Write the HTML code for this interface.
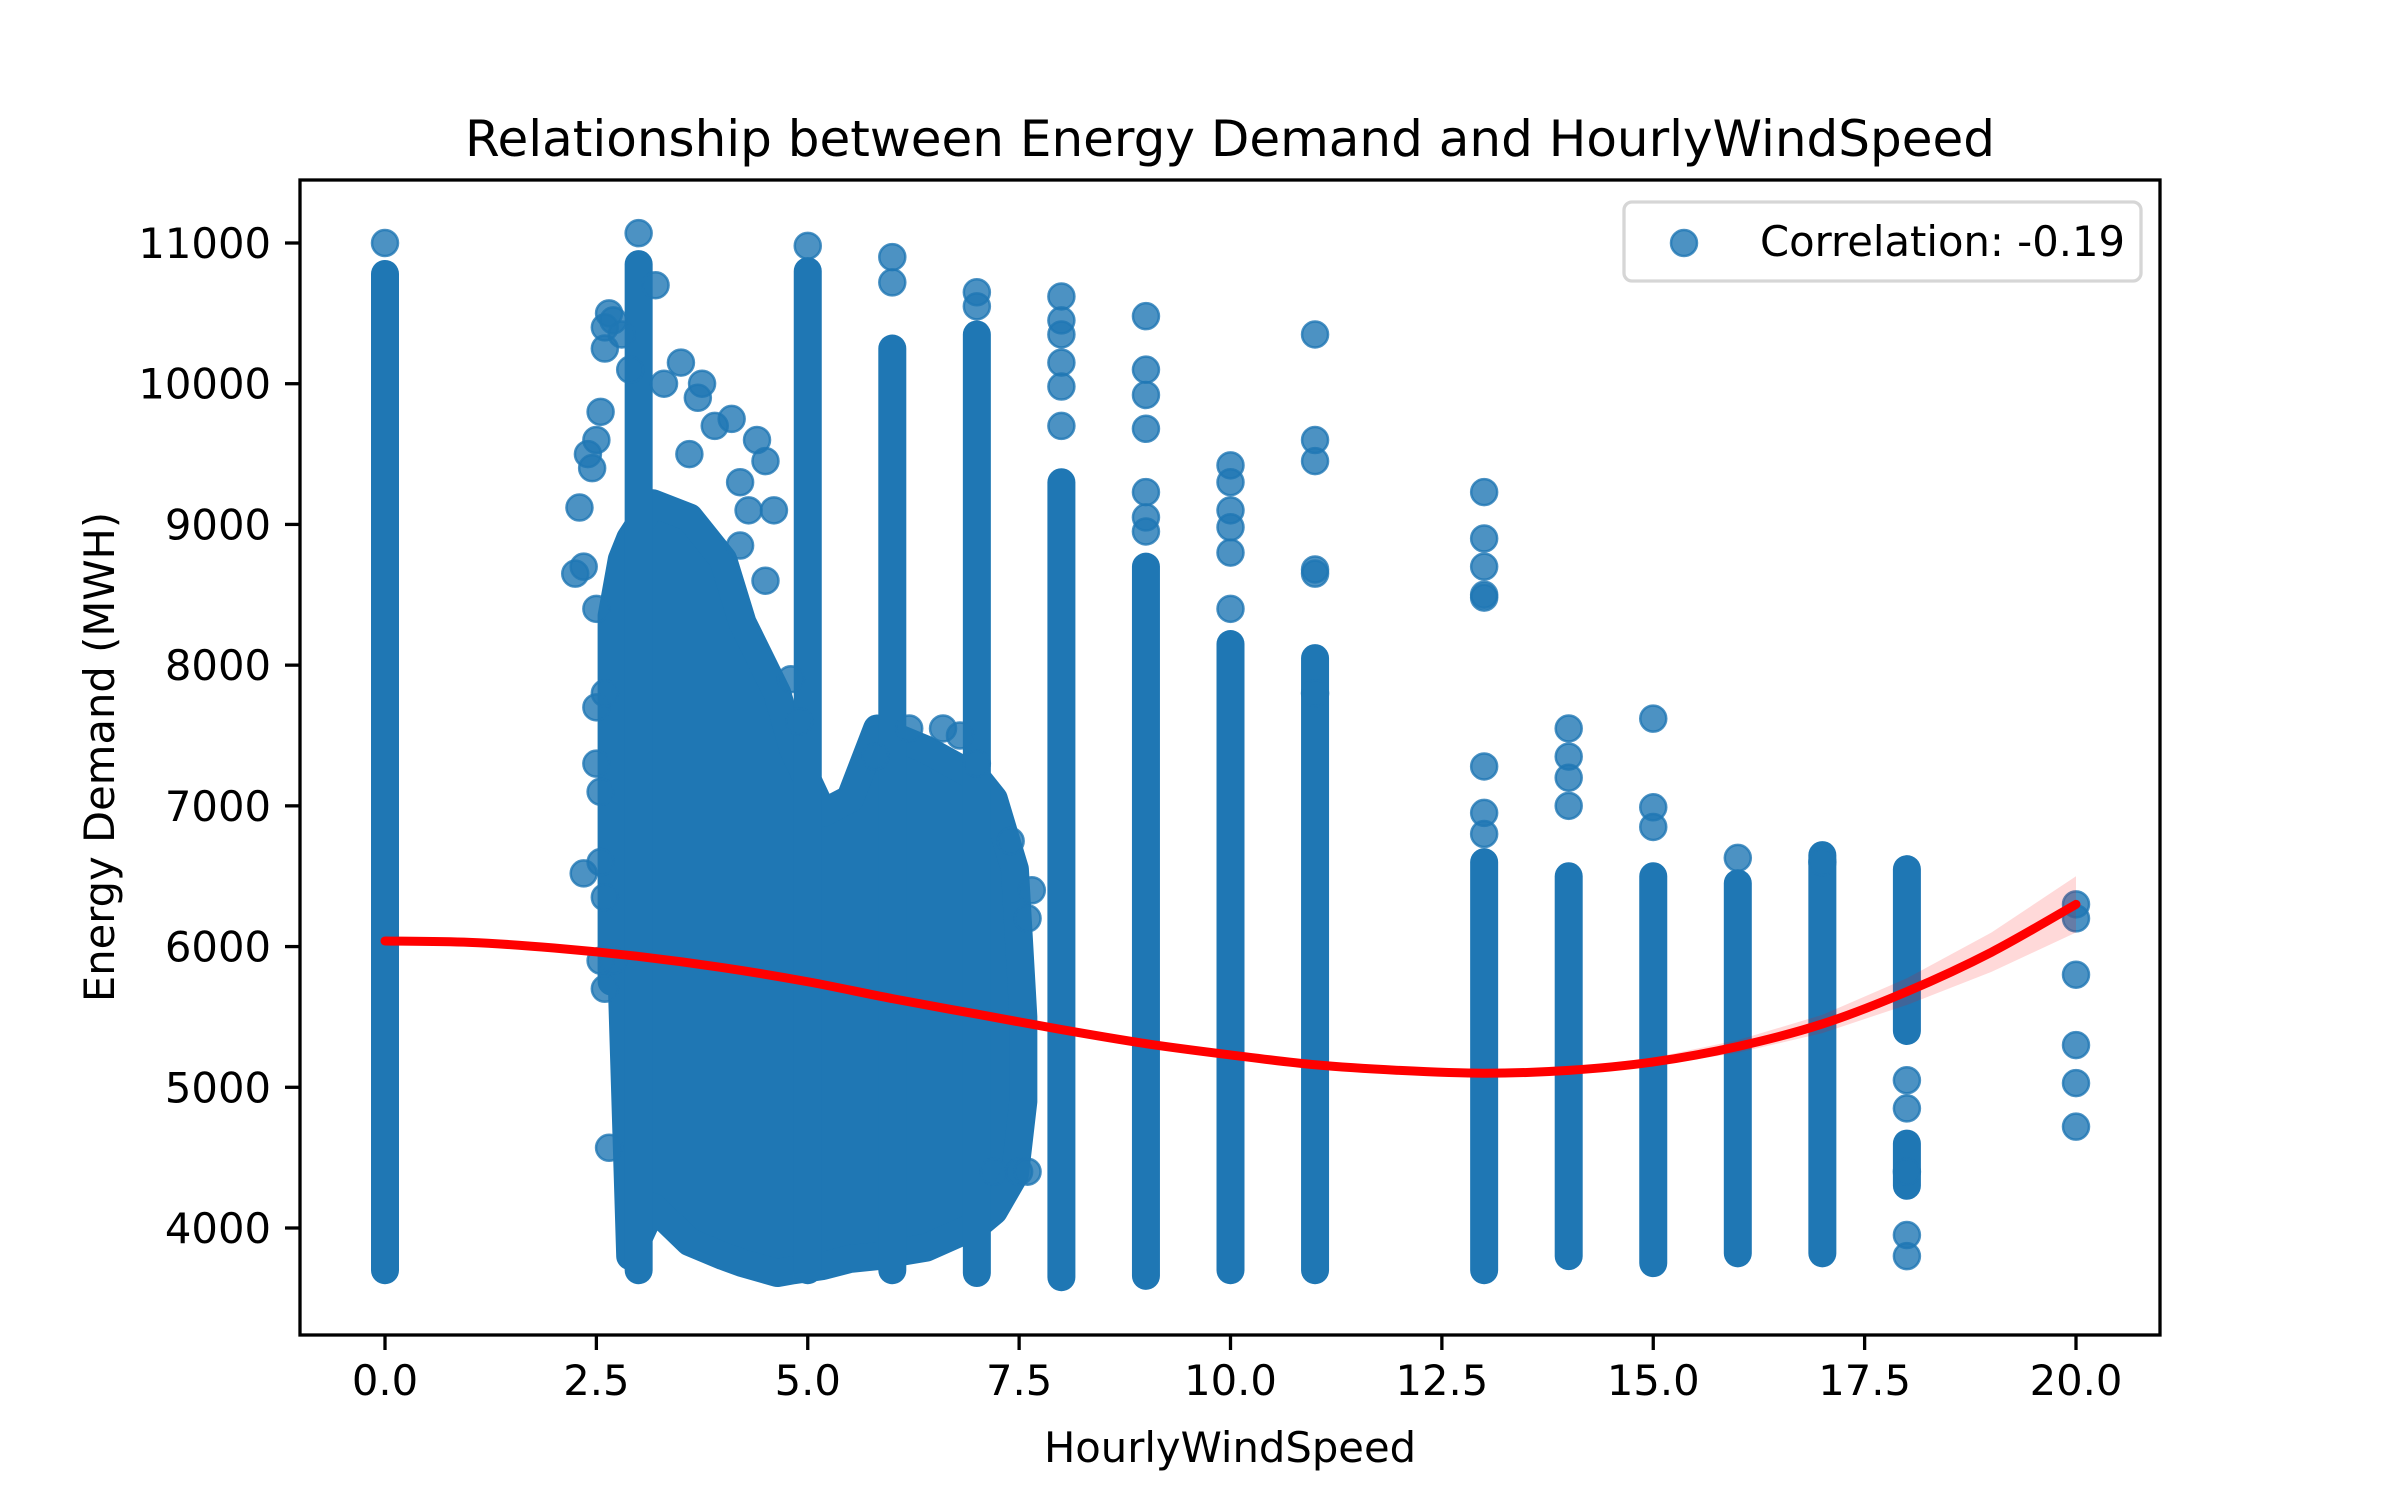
<!DOCTYPE html>
<html><head><meta charset="utf-8"><style>
html,body{margin:0;padding:0;background:#fff}
svg{display:block}
text{font-family:"DejaVu Sans","Liberation Sans",sans-serif;fill:#000}
</style></head><body>
<svg id="chart" width="2400" height="1500" viewBox="0 0 2400 1500" xmlns="http://www.w3.org/2000/svg">
<rect width="2400" height="1500" fill="#fff"/>
<defs><clipPath id="clip"><rect x="300" y="180" width="1860" height="1155"/></clipPath></defs>
<g id="plot" clip-path="url(#clip)"></g>
<g id="axes"></g>
<text x="1230" y="156" font-size="50" text-anchor="middle">Relationship between Energy Demand and HourlyWindSpeed</text>
<text x="1230" y="1462" font-size="41.7" text-anchor="middle">HourlyWindSpeed</text>
<text x="0" y="0" font-size="41.7" text-anchor="middle" transform="translate(114,757) rotate(-90)">Energy Demand (MWH)</text>
<g>
<rect x="1624" y="202" width="517" height="79" rx="8" fill="#fff" fill-opacity="0.8" stroke="#d6d6d6" stroke-width="3.3"/>
<circle cx="1684" cy="243" r="13" fill="#1f77b4" fill-opacity="0.8" stroke="#1f77b4" stroke-opacity="0.8" stroke-width="2.5"/>
<text x="1760" y="256" font-size="41.7">Correlation: -0.19</text>
</g>
</svg>
<script>
const xTicks=[0,2.5,5,7.5,10,12.5,15,17.5,20];
const xTickLabels=["0.0","2.5","5.0","7.5","10.0","12.5","15.0","17.5","20.0"];
const yTicks=[4000,5000,6000,7000,8000,9000,10000,11000];
const yTickLabels=["4000","5000","6000","7000","8000","9000","10000","11000"];
// dense column bands: x, low, high
const bandX=[0,3,5,6,7,8,9,10,11,13,14,15,16,17,18,18];
const bandLow=[3700,3700,3700,3700,3680,3650,3660,3700,3700,3700,3800,3750,3820,3820,5400,4300];
const bandHigh=[10780,10850,10800,10250,10350,9300,8700,8150,8050,6600,6500,6500,6450,6650,6550,4600];
// dense cloud envelope
const cloudX=[2.68,2.8,2.9,3.17,3.6,4.0,4.23,4.64,4.83,5.18,5.5,5.82,6.0,6.4,7.0,7.2,7.45,7.55];
const cloudHigh=[8350,8750,8900,9150,9050,8750,8300,7800,7400,6950,7050,7550,7500,7400,7200,7050,6550,5500];
const cloudLow=[5750,5750,3800,4150,3900,3800,3750,3680,3700,3730,3780,3800,3820,3860,4020,4120,4380,4900];
// isolated points
const ptX=[0,3,5,6,6,7,7,8,8,8,8,8,8,9,9,9,9,9,9,9,10,10,10,10,10,10,11,11,11,11,11,11,13,13,13,13,13,13,13,13,14,14,14,14,15,15,15,16,17,18,18,18,18,18,20,20,20,20,20,20,
 2.25,2.35,2.3,2.4,2.45,2.5,2.55,2.6,2.65,2.6,2.7,2.8,2.9,3.2,3.3,3.5,3.7,3.75,3.9,4.1,4.4,4.5,3.6,4.2,4.3,4.6,4.2,4.5,2.65,2.35,2.6,2.7,7.5,7.6,7.4,7.2,2.5,2.5,2.55,2.5,4.8,4.9,5.8,6.2,6.6,6.8,7.0,7.65,7.6,2.55,2.6,2.6,2.55];
const ptY=[11000,11070,10980,10900,10720,10650,10550,10620,10450,10350,10150,9980,9700,10480,10100,9920,9680,9230,9050,8950,9420,9300,9100,8980,8800,8400,10350,9600,9450,8680,8650,7800,9230,8900,8700,8500,8480,7280,6950,6800,7550,7350,7200,7000,7620,6990,6850,6630,6600,5050,4850,4400,3950,3800,6300,6200,5800,5300,5030,4720,
 8650,8700,9120,9500,9400,9600,9800,10400,10500,10250,10450,10350,10100,10700,10000,10150,9900,10000,9700,9750,9600,9450,9500,9300,9100,9100,8850,8600,4570,6520,5700,5900,4400,6200,6750,4400,7700,7300,7100,8400,7900,7600,7350,7550,7550,7500,7300,6400,4400,6600,6350,7800,5900];
// regression fit and CI
const fitX=[0,1,2,3,4,5,6,7,8,9,10,11,12,13,14,15,16,17,18,19,20];
const fitY=[6040,6030,5990,5930,5850,5750,5630,5520,5410,5310,5230,5160,5120,5100,5120,5180,5290,5450,5680,5960,6300];
const ciHalf=[30,25,20,15,12,12,12,12,12,12,12,12,14,16,20,30,45,65,95,140,200];

const X=v=>385+v*(2076-385)/20;
const Y=v=>1228-(v-4000)*(1228-243)/7000;
const NS='http://www.w3.org/2000/svg';
const plot=document.getElementById('plot'),axes=document.getElementById('axes');
function mk(tag,attrs,parent){const e=document.createElementNS(NS,tag);for(const k in attrs)e.setAttribute(k,attrs[k]);parent.appendChild(e);return e;}
const C='#1f77b4';
let d='';cloudX.forEach((x,i)=>{d+=(i?'L':'M')+X(x)+' '+Y(cloudHigh[i]);});
for(let i=cloudX.length-1;i>=0;i--)d+='L'+X(cloudX[i])+' '+Y(cloudLow[i]);
const cl=mk('path',{d:d+'Z',fill:C,stroke:C,'stroke-width':28,'stroke-linejoin':'round'},plot);


bandX.forEach((x,i)=>{
 const b=mk('line',{x1:X(x),x2:X(x),y1:Y(bandLow[i]),y2:Y(bandHigh[i]),stroke:C,'stroke-width':28,'stroke-linecap':'round'},plot);
 
 
});
ptX.forEach((x,i)=>{
 const p=mk('circle',{cx:X(x),cy:Y(ptY[i]),r:13,fill:C,'fill-opacity':0.8,stroke:C,'stroke-opacity':0.8,'stroke-width':2.5},plot);
 
 
});
let cd='';fitX.forEach((x,i)=>{cd+=(i?'L':'M')+X(x)+' '+Y(fitY[i]+ciHalf[i]);});
for(let i=fitX.length-1;i>=0;i--)cd+='L'+X(fitX[i])+' '+Y(fitY[i]-ciHalf[i]);
const ci=mk('path',{d:cd+'Z',fill:'#ff0000','fill-opacity':0.15},plot);


const pts=fitX.map((x,i)=>[X(x),Y(fitY[i])]);
let ld='M'+pts[0][0]+' '+pts[0][1];
for(let i=0;i<pts.length-1;i++){const p0=pts[Math.max(0,i-1)],p1=pts[i],p2=pts[i+1],p3=pts[Math.min(pts.length-1,i+2)];
 ld+=`C${p1[0]+(p2[0]-p0[0])/6} ${p1[1]+(p2[1]-p0[1])/6} ${p2[0]-(p3[0]-p1[0])/6} ${p2[1]-(p3[1]-p1[1])/6} ${p2[0]} ${p2[1]}`;}
const fl=mk('path',{d:ld,fill:'none',stroke:'#ff0000','stroke-width':9,'stroke-linecap':'round'},plot);


const sp=mk('rect',{x:300,y:180,width:1860,height:1155,fill:'none',stroke:'#000','stroke-width':3.3},axes);


xTicks.forEach((v,i)=>{
 const t=mk('line',{x1:X(v),x2:X(v),y1:1335,y2:1350,stroke:'#000','stroke-width':3.3},axes);
 
 
 const l=mk('text',{x:X(v),y:1395,'font-size':41.7,'text-anchor':'middle'},axes);
 l.textContent=xTickLabels[i];
 
 
});
yTicks.forEach((v,i)=>{
 const t=mk('line',{x1:285,x2:300,y1:Y(v),y2:Y(v),stroke:'#000','stroke-width':3.3},axes);
 
 
 const l=mk('text',{x:271,y:Y(v)+15,'font-size':41.7,'text-anchor':'end'},axes);
 l.textContent=yTickLabels[i];
 
 
});
</script>
</body></html>
